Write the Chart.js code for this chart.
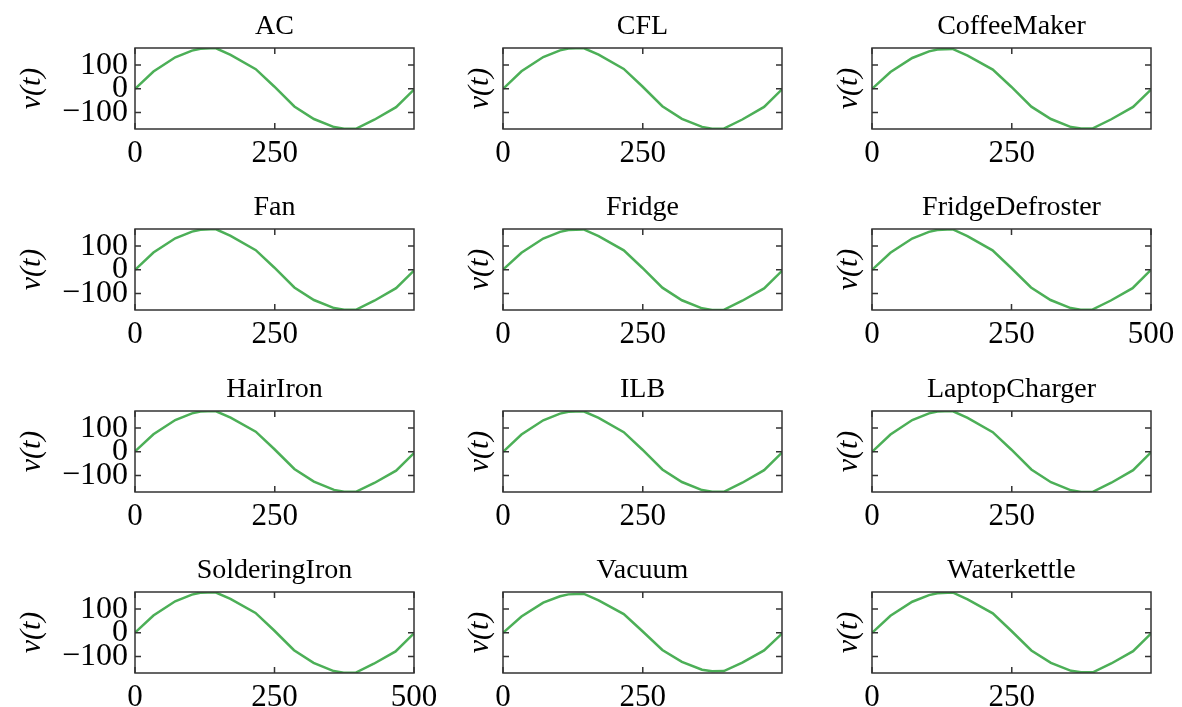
<!DOCTYPE html>
<html>
<head>
<meta charset="utf-8">
<script src="https://cdn.jsdelivr.net/npm/chart.js@4.4.1/dist/chart.umd.min.js"></script>
<style>
  html, body { margin: 0; padding: 0; background: #fff; }
  #wrap { position: relative; width: 1182px; height: 707px; overflow: hidden; }
  #wrap canvas { position: absolute; }
</style>
</head>
<body>
<div id="wrap"></div>
<script>
// appliance names, one subplot each (4 rows x 3 columns)
const appliances = ['AC', 'CFL', 'CoffeeMaker', 'Fan', 'Fridge', 'FridgeDefroster',
                    'HairIron', 'ILB', 'LaptopCharger', 'SolderingIron', 'Vacuum', 'Waterkettle'];

// sample index of the points
const sampleIdx = [0, 33, 72, 102, 117, 144, 171, 216, 249, 285, 320, 356, 374, 395, 428, 467, 499];

// voltage v(t) for one cycle, per appliance
const vAC              = [0, 73, 133, 161, 169, 172, 143, 83, 10, -74, -127, -161, -168, -168, -130, -77, -3];
const vCFL             = [0, 74, 134, 162, 170, 172, 144, 84, 11, -73, -126, -160, -168, -167, -129, -76, -2];
const vCoffeeMaker     = [0, 71, 130, 158, 166, 168, 140, 81, 9, -75, -127, -161, -167, -166, -128, -76, -3];
const vFan             = [0, 73, 133, 161, 169, 172, 143, 83, 10, -74, -127, -161, -168, -168, -130, -77, -3];
const vFridge          = [1, 72, 132, 160, 168, 170, 142, 82, 9, -75, -128, -162, -169, -168, -130, -78, -4];
const vFridgeDefroster = [0, 72, 132, 160, 168, 171, 142, 82, 9, -74, -127, -161, -168, -167, -129, -77, -2];
const vHairIron        = [2, 74, 134, 162, 170, 172, 144, 85, 12, -72, -125, -160, -168, -168, -131, -79, -5];
const vILB             = [0, 73, 133, 161, 169, 171, 143, 83, 10, -74, -127, -161, -168, -168, -130, -77, -3];
const vLaptopCharger   = [0, 73, 134, 162, 170, 172, 143, 83, 10, -74, -128, -162, -169, -168, -130, -77, -2];
const vSolderingIron   = [1, 73, 133, 161, 169, 171, 143, 84, 11, -73, -126, -161, -168, -168, -130, -78, -4];
const vVacuum          = [0, 69, 127, 154, 162, 165, 137, 79, 8, -72, -122, -155, -162, -161, -125, -74, -3];
const vWaterkettle     = [0, 72, 131, 159, 167, 170, 141, 82, 9, -74, -126, -160, -166, -166, -129, -77, -3];

const series = [vAC, vCFL, vCoffeeMaker, vFan, vFridge, vFridgeDefroster,
                vHairIron, vILB, vLaptopCharger, vSolderingIron, vVacuum, vWaterkettle];

// x axis upper limit of each subplot
const xMax = [499, 499, 499, 499, 499, 500, 499, 499, 499, 500, 499, 499];

// tick values
const xTickVals = [0, 250, 500];
const yTickVals = [-100, 0, 100];

// layout of the grid (plot area corners)
const colLeft = [135, 503, 872];
const rowTop = [48, 229, 411, 592];
const plotW = 279, plotH = 81;
const yAxisW = 135, titleH = 48, xAxisH = 50, padRight = 40;

const serif = "'Liberation Serif', 'Times New Roman', serif";
const lineColor = '#4caf57';
const spineColor = '#333333';

// shared y range for all subplots
const allV = series.flat();
const yMin = Math.min(...allV), yMax = Math.max(...allV);

// box around the plot area, inward ticks on all four sides, title over the plot
const frameTicks = {
  id: 'frameTicks',
  afterDatasetsDraw(chart, args, opts) {
    const { ctx, chartArea: a, scales: { x, y } } = chart;
    const len = 6;
    ctx.save();
    ctx.strokeStyle = spineColor;
    ctx.lineWidth = 1.5;
    ctx.beginPath();
    x.ticks.forEach(t => {
      const px = x.getPixelForValue(t.value);
      ctx.moveTo(px, a.bottom); ctx.lineTo(px, a.bottom - len);
      ctx.moveTo(px, a.top); ctx.lineTo(px, a.top + len);
    });
    y.ticks.forEach(t => {
      const py = y.getPixelForValue(t.value);
      ctx.moveTo(a.left, py); ctx.lineTo(a.left + len, py);
      ctx.moveTo(a.right, py); ctx.lineTo(a.right - len, py);
    });
    ctx.stroke();
    ctx.strokeRect(a.left, a.top, a.right - a.left, a.bottom - a.top);

    ctx.fillStyle = '#000';
    ctx.font = '28px ' + serif;
    ctx.textAlign = 'center';
    ctx.textBaseline = 'alphabetic';
    ctx.fillText(opts.text, (a.left + a.right) / 2, a.top - 14.5);
    ctx.restore();
  }
};

const wrap = document.getElementById('wrap');

appliances.forEach((name, i) => {
  const row = Math.floor(i / 3), col = i % 3;
  const canvas = document.createElement('canvas');
  canvas.width = yAxisW + plotW + padRight;
  canvas.height = titleH + plotH + xAxisH;
  canvas.style.left = (colLeft[col] - yAxisW) + 'px';
  canvas.style.top = (rowTop[row] - titleH) + 'px';
  wrap.appendChild(canvas);

  const points = sampleIdx.map((t, k) => ({ x: t, y: series[i][k] }));
  const firstCol = col === 0;

  new Chart(canvas.getContext('2d'), {
    type: 'line',
    data: {
      datasets: [{
        data: points,
        borderColor: lineColor,
        borderWidth: 2.5,
        pointRadius: 0,
        tension: 0,
        fill: false
      }]
    },
    options: {
      responsive: false,
      animation: false,
      events: [],
      layout: { padding: { left: 0, right: padRight, top: titleH, bottom: 0 } },
      plugins: {
        legend: { display: false },
        tooltip: { enabled: false },
        title: { display: false },
        frameTicks: { text: name }
      },
      scales: {
        x: {
          type: 'linear',
          min: 0,
          max: xMax[i],
          grid: { display: false, drawTicks: false },
          border: { display: false },
          afterBuildTicks(scale) {
            scale.ticks = xTickVals.filter(v => v <= scale.max).map(v => ({ value: v }));
          },
          ticks: {
            maxRotation: 0,
            autoSkip: false,
            padding: 6,
            color: '#000',
            font: { family: serif, size: 31 }
          },
          afterFit(scale) {
            scale.height = xAxisH;
            scale.paddingLeft = 0;
            scale.paddingRight = 0;
          }
        },
        y: {
          type: 'linear',
          min: yMin,
          max: yMax,
          grid: { display: false, drawTicks: false },
          border: { display: false },
          title: {
            display: true,
            text: 'v(t)',
            color: '#000',
            font: { family: serif, size: 30, style: 'italic', lineHeight: 1.2 },
            padding: { top: firstCol ? 14 : 94, bottom: 0 }
          },
          afterBuildTicks(scale) {
            scale.ticks = yTickVals.map(v => ({ value: v }));
          },
          ticks: {
            display: firstCol,
            autoSkip: false,
            padding: 7,
            color: '#000',
            font: { family: serif, size: 32 },
            callback: v => String(v).replace('-', '\u2212')
          },
          afterFit(scale) {
            scale.width = yAxisW;
            scale.paddingTop = 0;
            scale.paddingBottom = 0;
          }
        }
      }
    },
    plugins: [frameTicks]
  });
});
</script>
</body>
</html>
